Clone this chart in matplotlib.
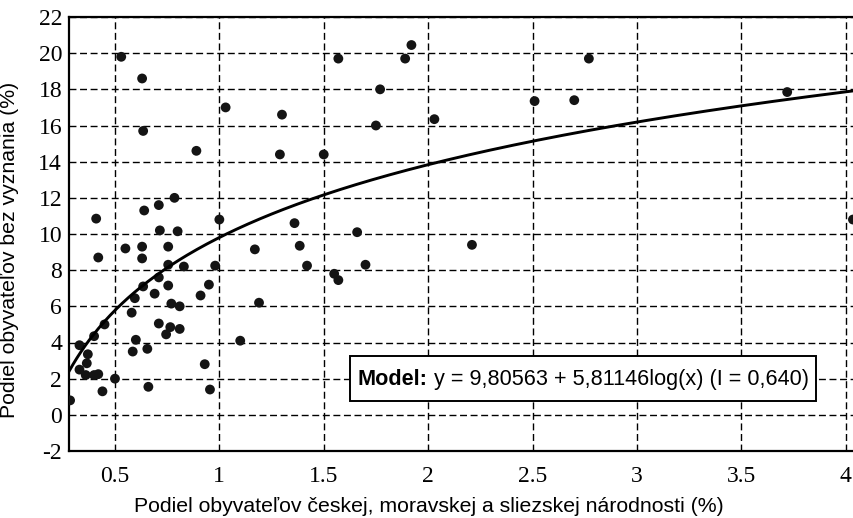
import numpy as np
import matplotlib
matplotlib.use("Agg")
import matplotlib.pyplot as plt
from matplotlib.patches import Rectangle
from matplotlib.offsetbox import TextArea, HPacker, AnchoredOffsetbox

plt.rcParams["axes.unicode_minus"] = False

# Share of Czech, Moravian and Silesian nationality (%) per district
czech_share = [
    0.285, 0.33, 0.33, 0.37, 0.365, 0.36, 0.40, 0.42, 0.44, 0.40,
    0.45, 0.50, 0.42, 0.41, 0.53, 0.55, 0.58, 0.595, 0.60, 0.585,
    0.63, 0.635, 0.64, 0.63, 0.63, 0.635, 0.655, 0.66, 0.69, 0.71,
    0.715, 0.71, 0.71, 0.745, 0.755, 0.755, 0.755, 0.77, 0.765, 0.785,
    0.80, 0.81, 0.81, 0.83, 0.89, 0.91, 0.95, 0.93, 0.955, 0.98,
    1.00, 1.03, 1.10, 1.17, 1.19, 1.30, 1.29, 1.36, 1.385, 1.42,
    1.50, 1.55, 1.57, 1.57, 1.66, 1.70, 1.75, 1.77, 1.89, 1.92,
    2.03, 2.21, 2.51, 2.70, 2.77, 3.72, 4.035,
]
# Share of population without religious affiliation (%)
no_religion = [
    0.8, 3.85, 2.5, 3.35, 2.85, 2.2, 2.2, 2.25, 1.3, 4.35,
    5.0, 2.0, 8.7, 10.85, 19.8, 9.2, 5.65, 6.45, 4.15, 3.5,
    18.6, 15.7, 11.3, 9.3, 8.65, 7.1, 3.65, 1.55, 6.7, 11.6,
    10.2, 7.6, 5.05, 4.45, 9.3, 8.3, 7.15, 6.15, 4.85, 12.0,
    10.15, 6.0, 4.75, 8.2, 14.6, 6.6, 7.2, 2.8, 1.4, 8.25,
    10.8, 17.0, 4.1, 9.15, 6.2, 16.6, 14.4, 10.6, 9.35, 8.25,
    14.4, 7.8, 7.45, 19.7, 10.1, 8.3, 16.0, 18.0, 19.7, 20.45,
    16.35, 9.4, 17.35, 17.4, 19.7, 17.85, 10.8,
]

# Logarithmic model coefficients
model_a = 9.80563
model_b = 5.81146

x_ticks = [0.5, 1, 1.5, 2, 2.5, 3, 3.5, 4]
x_tick_labels = ["0.5", "1", "1.5", "2", "2.5", "3", "3.5", "4"]
y_ticks = list(range(-2, 23, 2))

fig = plt.figure(figsize=(8.54, 5.18), dpi=100)
fig.patch.set_facecolor("white")
ax = fig.add_axes([69 / 854, 67 / 518, 785 / 854, 434 / 518])

x_min, x_max = 0.2798, 4.04
ax.set_xlim(x_min, x_max)
ax.set_ylim(-2, 22)

# Grid
ax.set_xticks(x_ticks)
ax.set_xticklabels(x_tick_labels)
ax.set_yticks(y_ticks)
ax.grid(True, color="black", linestyle=(0, (5, 2.6)), linewidth=1.0)
ax.set_axisbelow(True)

# Points
ax.scatter(czech_share, no_religion, s=50, color="#141414", edgecolors="none", zorder=3)

# Fitted curve
xs = np.linspace(x_min, x_max, 400)
ax.plot(xs, model_a + model_b * np.log(xs), color="black", linewidth=2.1, zorder=4)

# Spines
for side in ("left", "bottom", "top"):
    ax.spines[side].set_linewidth(1.6)
    ax.spines[side].set_color("black")
ax.spines["right"].set_visible(False)

serif = ["Liberation Serif", "DejaVu Serif"]
sans = ["Liberation Sans", "DejaVu Sans"]
ax.tick_params(axis="both", length=0)
ax.tick_params(axis="x", pad=11)
ax.tick_params(axis="y", pad=5)
for lbl in ax.get_xticklabels() + ax.get_yticklabels():
    lbl.set_fontfamily(serif)
    lbl.set_fontsize(17)

ax.set_xlabel("Podiel obyvateľov českej, moravskej a sliezskej národnosti (%)",
              fontfamily=sans, fontsize=15.3)
ax.xaxis.set_label_coords(0.459, -0.105)
ax.set_ylabel("Podiel obyvateľov bez vyznania (%)", fontfamily=sans, fontsize=15.3)
ax.yaxis.set_label_coords(-0.064, 0.463)

# Model equation box: frame drawn as a rectangle, text packed on top
frame = Rectangle((0.358, 0.1152), 0.5936, 0.1037, transform=ax.transAxes,
                  facecolor="white", edgecolor="black", linewidth=1.4, zorder=5)
ax.add_patch(frame)
t_bold = TextArea("Model:", textprops=dict(fontfamily=sans, fontsize=15.6, fontweight="bold"))
t_rest = TextArea(" y = 9,80563 + 5,81146log(x) (I = 0,640)",
                  textprops=dict(fontfamily=sans, fontsize=15.6))
pack = HPacker(children=[t_bold, t_rest], align="baseline", pad=0, sep=0)
box = AnchoredOffsetbox(loc="center", child=pack, pad=0, frameon=False,
                        bbox_to_anchor=(0.655, 0.165), bbox_transform=ax.transAxes,
                        borderpad=0)
box.zorder = 6
ax.add_artist(box)

fig.savefig("out.png", dpi=100, facecolor="white")
